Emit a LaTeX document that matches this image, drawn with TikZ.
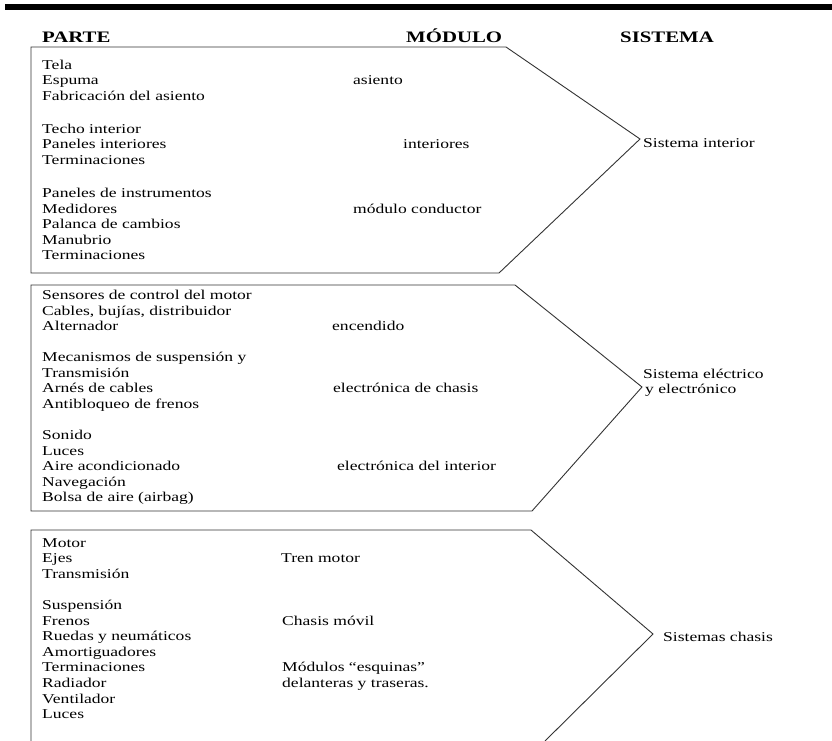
\documentclass[tikz,border=0pt]{standalone}
\usepackage{fontspec}
\setmainfont[FakeStretch=1.3]{Liberation Serif}
\begin{document}
\begin{tikzpicture}[x=1pt,y=-1pt,
  part/.style={anchor=base west, inner sep=0pt, font=\fontsize{13.5}{15.5}\selectfont},
  head/.style={anchor=base west, inner sep=0pt, font=\fontsize{16}{18}\selectfont\bfseries},
  frame/.style={draw=black!80, line width=0.9pt, line join=miter}]
\useasboundingbox (0,0) rectangle (832,741);
\fill[black] (5,4) rectangle (832,10);
% headers
\node[head] (hparte) at (42,42.5) {PARTE};
\node[head] (hmodulo) at (406,42.5) {MÓDULO};
\node[head] (hsistema) at (620,42.5) {SISTEMA};
% frames
\coordinate (b1tl) at (31,47); \coordinate (b1tr) at (506,47);
\coordinate (b1ap) at (640,139); \coordinate (b1br) at (499,273); \coordinate (b1bl) at (31,273);
\draw[frame] (b1tr) -- (b1tl) -- (b1bl) -- (b1br) -- (b1ap) -- (b1tr);
\coordinate (b2tl) at (31,285); \coordinate (b2tr) at (515,285);
\coordinate (b2ap) at (642,387); \coordinate (b2br) at (532,511); \coordinate (b2bl) at (31,511);
\draw[frame] (b2tr) -- (b2tl) -- (b2bl) -- (b2br) -- (b2ap) -- (b2tr);
\coordinate (b3tl) at (31,530); \coordinate (b3tr) at (531,530);
\coordinate (b3ap) at (653,634); \coordinate (b3bl) at (31,741); \coordinate (b3br) at (545,741);
\draw[frame] (b3bl) -- (b3tl) -- (b3tr) -- (b3ap) -- (b3br);
% box 1 parts
\node[part] (p11) at (42,69.5) {Tela};
\node[part] (p12) at (42,85) {Espuma};
\node[part] (p13) at (42,100.5) {Fabricación del asiento};
\node[part] (p14) at (42,133.5) {Techo interior};
\node[part] (p15) at (42,149) {Paneles interiores};
\node[part] (p16) at (42,164.5) {Terminaciones};
\node[part] (p17) at (42,197.5) {Paneles de instrumentos};
\node[part] (p18) at (42,213) {Medidores};
\node[part] (p19) at (42,228.5) {Palanca de cambios};
\node[part] (p110) at (42,244) {Manubrio};
\node[part] (p111) at (42,259.5) {Terminaciones};
\node[part] (m11) at (353,85) {asiento};
\node[part] (m12) at (403,149) {interiores};
\node[part] (m13) at (353,213) {módulo conductor};
\node[part] (s1) at (643,147.5) {Sistema interior};
% box 2 parts
\node[part] (p21) at (42,299.5) {Sensores de control del motor};
\node[part] (p22) at (42,315) {Cables, bujías, distribuidor};
\node[part] (p23) at (42,330.5) {Alternador};
\node[part] (p24) at (42,361.5) {Mecanismos de suspensión y};
\node[part] (p25) at (42,377) {Transmisión};
\node[part] (p26) at (42,392.5) {Arnés de cables};
\node[part] (p27) at (42,408) {Antibloqueo de frenos};
\node[part] (p28) at (42,439.5) {Sonido};
\node[part] (p29) at (42,455) {Luces};
\node[part] (p210) at (42,470.5) {Aire acondicionado};
\node[part] (p211) at (42,486) {Navegación};
\node[part] (p212) at (42,501.5) {Bolsa de aire (airbag)};
\node[part] (m21) at (332,330.5) {encendido};
\node[part] (m22) at (333,392.5) {electrónica de chasis};
\node[part] (m23) at (337,470.5) {electrónica del interior};
\node[part] (s2a) at (643,378.5) {Sistema eléctrico};
\node[part] (s2b) at (645,393.5) {y electrónico};
% box 3 parts
\node[part] (p31) at (42,547.5) {Motor};
\node[part] (p32) at (42,562.5) {Ejes};
\node[part] (p33) at (42,578) {Transmisión};
\node[part] (p34) at (42,609.5) {Suspensión};
\node[part] (p35) at (42,625) {Frenos};
\node[part] (p36) at (42,640.5) {Ruedas y neumáticos};
\node[part] (p37) at (42,656) {Amortiguadores};
\node[part] (p38) at (42,671.5) {Terminaciones};
\node[part] (p39) at (42,687.5) {Radiador};
\node[part] (p310) at (42,703) {Ventilador};
\node[part] (p311) at (42,718.5) {Luces};
\node[part] (m31) at (281,562.5) {Tren motor};
\node[part] (m32) at (282,625) {Chasis móvil};
\node[part] (m33) at (282,671.5) {Módulos “esquinas”};
\node[part] (m34) at (282,687.5) {delanteras y traseras.};
\node[part] (s3) at (663,641.5) {Sistemas chasis};
\end{tikzpicture}
\end{document}
